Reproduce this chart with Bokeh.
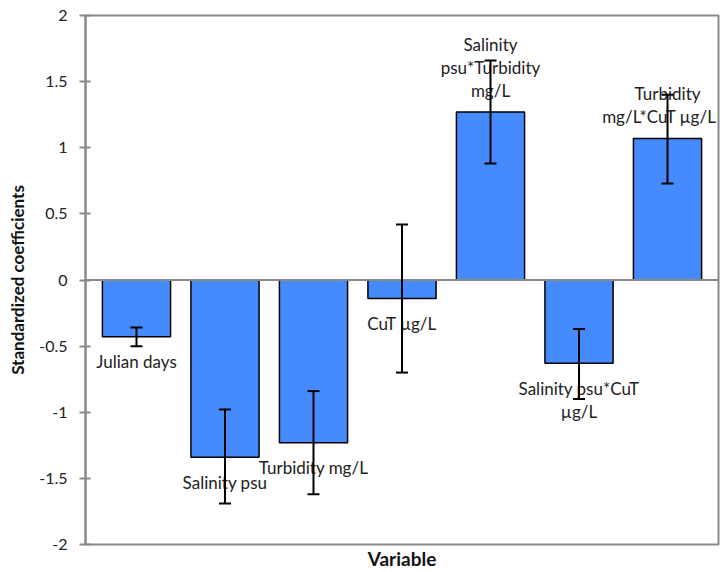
from bokeh.plotting import figure
from bokeh.models import Span, Whisker, ColumnDataSource, FixedTicker, Range1d, TeeHead
from bokeh.core.properties import value
from bokeh.embed import file_html
from bokeh.resources import INLINE

# ---- data ----
variables = ["Julian days", "Salinity psu", "Turbidity mg/L", "CuT µg/L",
             "Salinity psu*Turbidity mg/L", "Salinity psu*CuT µg/L",
             "Turbidity mg/L*CuT µg/L"]
label_lines = [["Julian days"], ["Salinity psu"], ["Turbidity mg/L"], ["CuT µg/L"],
               ["Salinity", "psu*Turbidity", "mg/L"], ["Salinity psu*CuT", "µg/L"],
               ["Turbidity", "mg/L*CuT µg/L"]]
coefficients = [-0.43, -1.34, -1.23, -0.14, 1.27, -0.63, 1.07]
ci_lower = [-0.50, -1.69, -1.62, -0.70, 0.88, -0.90, 0.73]
ci_upper = [-0.36, -0.98, -0.84, 0.42, 1.66, -0.37, 1.40]
y_ticks = [-2, -1.5, -1, -0.5, 0, 0.5, 1, 1.5, 2]
y_tick_labels = ["-2", "-1.5", "-1", "-0.5", "0", "0.5", "1", "1.5", "2"]
x_title = "Variable"
y_title = "Standardized coefficients"

FONT = "Lato"
GRAY = "#898989"
LABEL_PX = 17
X_START, X_END = -0.576, 6.576
FRAME_W = 727 - 85 - 9

xs = list(range(len(variables)))
src = ColumnDataSource(dict(x=xs, coef=coefficients, lower=ci_lower, upper=ci_upper))

p = figure(width=727, height=572, output_backend="svg", toolbar_location=None,
           x_range=Range1d(X_START, X_END), y_range=Range1d(-2, 2),
           min_border_left=85, min_border_right=9, min_border_top=15, min_border_bottom=26)
p.background_fill_color = "white"
p.border_fill_color = "white"
p.outline_line_color = GRAY
p.outline_line_width = 2
p.xgrid.visible = False
p.ygrid.visible = False

p.vbar(x="x", top="coef", bottom=0, width=0.77, source=src,
       fill_color="#468BFD", line_color="black", line_width=1.5)

# data labels (category names at the outer end of each bar)
px_per_unit = FRAME_W / (X_END - X_START)
lx, ly, lt, lo, lxo = [], [], [], [], []
for i, lines in enumerate(label_lines):
    n = len(lines)
    for j, line in enumerate(lines):
        lx.append(xs[i])
        ly.append(coefficients[i])
        lt.append(line)
        if coefficients[i] < 0:
            lo.append(25 + 23 * j)
        else:
            lo.append(-(22 + 23 * (n - 1 - j)))
        # keep text inside the frame (glyphs are clipped at its edge)
        half_w = 0.5 * len(line) * 0.5 * LABEL_PX
        room = (X_END - xs[i]) * px_per_unit - 4
        lxo.append(min(0, room - half_w))
lsrc = ColumnDataSource(dict(x=lx, y=ly, t=lt, o=lo, xo=lxo))
p.text(x="x", y="y", text="t", y_offset="o", x_offset="xo", source=lsrc,
       text_align="center", text_baseline="middle",
       text_font=value(FONT), text_font_size=f"{LABEL_PX}px", text_color="#222222")

zero = Span(location=0, dimension="width", line_color=GRAY, line_width=2)
p.add_layout(zero)

w = Whisker(base="x", upper="upper", lower="lower", source=src,
            line_color="black", line_width=2, level="annotation",
            upper_head=TeeHead(size=12, line_color="black", line_width=2),
            lower_head=TeeHead(size=12, line_color="black", line_width=2))
p.add_layout(w)

# y axis
p.yaxis.ticker = FixedTicker(ticks=y_ticks)
p.yaxis.major_label_overrides = {float(t): s for t, s in zip(y_ticks, y_tick_labels)}
p.yaxis.minor_tick_line_color = None
p.yaxis.major_tick_in = 5
p.yaxis.major_tick_out = 6
p.yaxis.major_tick_line_color = GRAY
p.yaxis.major_tick_line_width = 2
p.yaxis.axis_line_color = GRAY
p.yaxis.axis_line_width = 2
p.yaxis.major_label_standoff = 12
p.yaxis.major_label_text_font = FONT
p.yaxis.major_label_text_font_size = "16px"
p.yaxis.major_label_text_color = "#222222"
p.yaxis.axis_label = y_title
p.yaxis.axis_label_text_font = FONT
p.yaxis.axis_label_text_font_style = "bold"
p.yaxis.axis_label_text_font_size = "17px"
p.yaxis.axis_label_text_color = "#111111"
p.yaxis.axis_label_standoff = 8

# x axis: no ticks, only the title
p.xaxis.ticker = FixedTicker(ticks=[])
p.xaxis.axis_line_color = None
p.xaxis.major_tick_line_color = None
p.xaxis.minor_tick_line_color = None
p.xaxis.major_tick_in = 0
p.xaxis.major_tick_out = 0
p.xaxis.major_label_standoff = 0
p.xaxis.axis_label = x_title
p.xaxis.axis_label_text_font = FONT
p.xaxis.axis_label_text_font_style = "bold"
p.xaxis.axis_label_text_font_size = "19px"
p.xaxis.axis_label_text_color = "#111111"
p.xaxis.axis_label_standoff = 2

open("out.html", "w").write(file_html(p, INLINE))
